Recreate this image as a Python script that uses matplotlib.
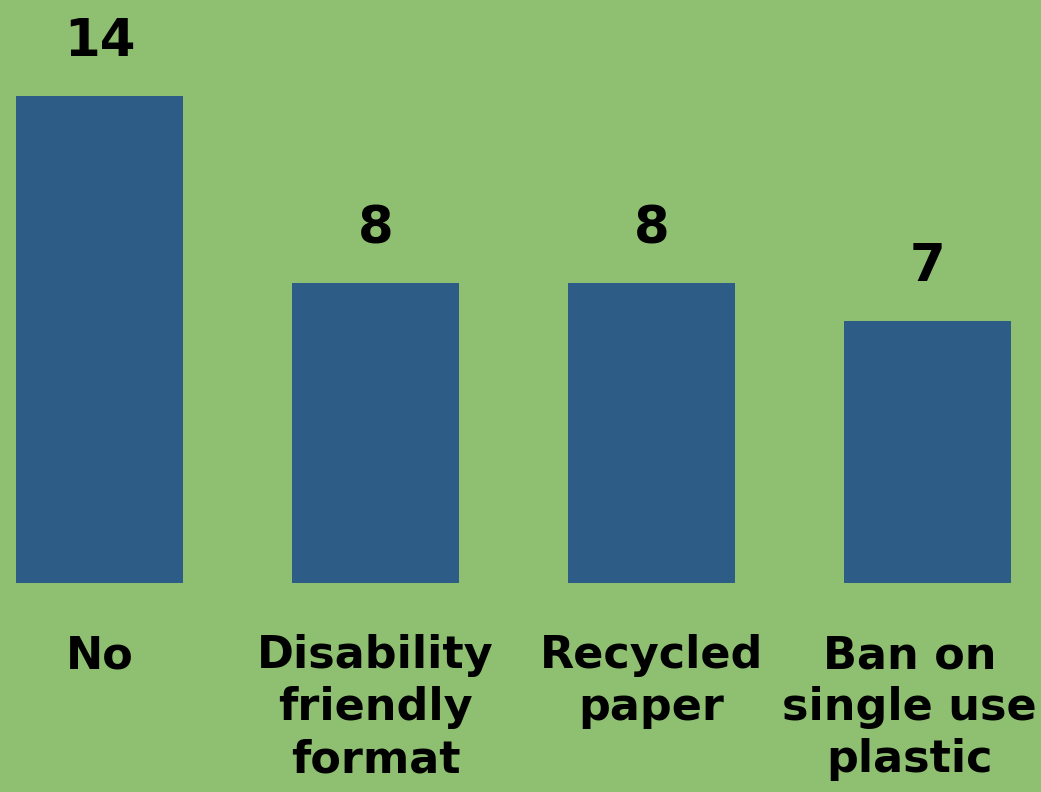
# bar chart: responses by category
import matplotlib.pyplot as plt
from matplotlib.transforms import offset_copy

categories = ['No', 'Disability\nfriendly\nformat', 'Recycled\npaper', 'Ban on\nsingle use\nplastic']
values = [14, 8, 8, 7]

bg = '#8fbf70'
bar_color = '#2d5c86'
ymax = 13  # top of the visible plot, the first bar runs past it

plt.rcParams['font.family'] = ['DejaVu Sans']

fig = plt.figure(figsize=(10.41, 7.92), dpi=100, facecolor=bg)
ax = fig.add_axes([0, 1 - 583 / 792, 1, 487 / 792])
ax.set_facecolor(bg)

x = range(len(values))
ax.bar(x, values, width=0.605, color=bar_color)
ax.set_xlim(-0.362, 3.412)
ax.set_ylim(0, ymax)

labels = []
for xi, v, lab in zip(x, values, categories):
    ax.annotate(str(v), (xi, min(v, ymax)), xytext=(0, 21), textcoords='offset points',
                ha='center', va='bottom', fontsize=37, fontweight='bold',
                color='black', annotation_clip=False)
    t = ax.text(xi, -0.105, lab, transform=ax.get_xaxis_transform(), ha='center', va='top',
                fontsize=32, fontweight='bold', linespacing=1.27, color='black')
    labels.append(t)

# keep labels inside the figure
fig.canvas.draw()
r = fig.canvas.get_renderer()
W = fig.bbox.width
for t in labels:
    bb = t.get_window_extent(r)
    shift = 0
    if bb.x1 > W - 4:
        shift = (W - 4) - bb.x1
    elif bb.x0 < 4:
        shift = 4 - bb.x0
    if shift:
        t.set_transform(offset_copy(t.get_transform(), fig=fig, x=shift, units='dots'))

ax.axis('off')
fig.savefig('out.png', dpi=100, facecolor=bg)
